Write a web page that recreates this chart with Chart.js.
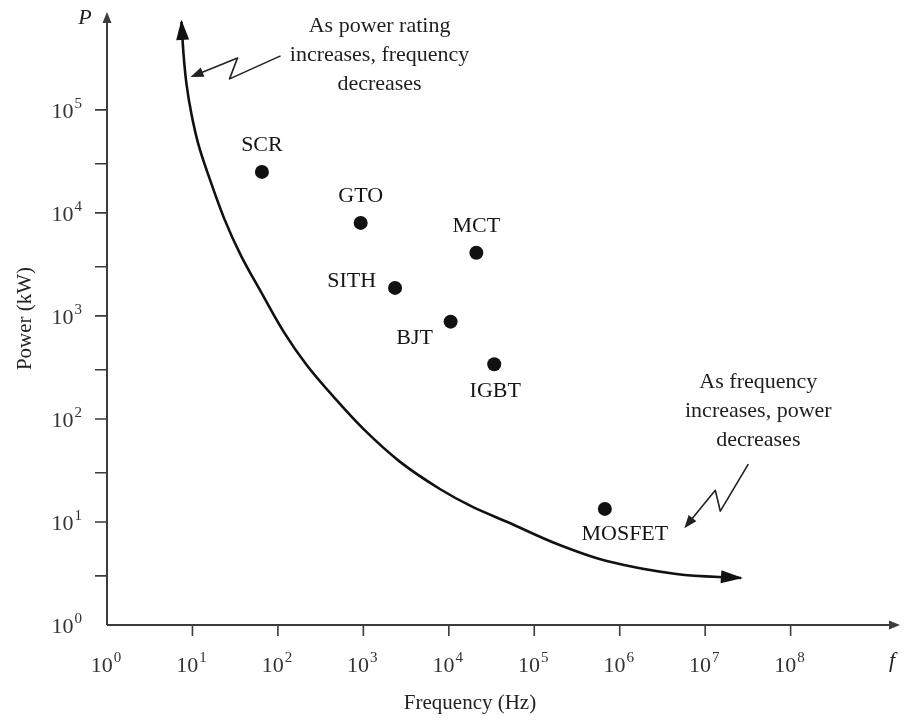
<!DOCTYPE html>
<html>
<head>
<meta charset="utf-8">
<title>Power vs Frequency</title>
<script src="https://cdn.jsdelivr.net/npm/chart.js@4.4.1/dist/chart.umd.min.js"></script>
<style>
  body { margin: 0; background: #fff; }
  #wrap { width: 907px; height: 721px; }
</style>
</head>
<body>
<div id="wrap"><canvas id="myChart" width="907" height="721"></canvas></div>
<script>
// power devices: switching frequency (Hz) vs power (kW)
const devices = ['SCR', 'GTO', 'MCT', 'SITH', 'BJT', 'IGBT', 'MOSFET'];
const devFreq = [65, 930, 21000, 2350, 10500, 34000, 670000];
const devPower = [25000, 8000, 4100, 1870, 880, 340, 13.4];
// where each name goes around its dot
const labelPos = ['above', 'above', 'above', 'left', 'belowLeft', 'below', 'belowRight'];

// the trade-off curve (power vs frequency), read along its length
const trendFreq = [7.45, 7.86, 8.51, 9.73, 11.7, 14.9, 23.6, 37.1, 63.4, 117, 217, 448, 1000,
  2690, 7860, 19000, 48500, 185000, 706000, 4.6e6, 2.62e7];
const trendPower = [715000, 350000, 179000, 91400, 46800, 25000, 8750, 3830, 1710, 700, 334, 164, 80,
  38.3, 20.9, 14.0, 10.0, 6.11, 4.18, 3.13, 2.86];

// axis ticks (powers of ten) and the short in-between marks on P
const xTickExp = [0, 1, 2, 3, 4, 5, 6, 7, 8];
const yTickExp = [0, 1, 2, 3, 4, 5];
const yMinorTicks = [3, 30, 300, 3000, 30000];

const xMax = Math.pow(10, 9.28);
const yMax = Math.pow(10, 5.95);

// callout notes, anchored at the arrow tip (freq, power)
const callouts = [
  { lines: ['As power rating', 'increases, frequency', 'decreases'], tip: [9.5, 2.09e5] },
  { lines: ['As frequency', 'increases, power', 'decreases'], tip: [5.7e6, 8.7] }
];

const FONT = '"Liberation Serif", "Times New Roman", serif';
const INK = '#111';
const AXIS = '#3c3c3c';

function arrowHead(ctx, x, y, angle, len, half) {
  ctx.save();
  ctx.translate(x, y);
  ctx.rotate(angle);
  ctx.beginPath();
  ctx.moveTo(0, 0);
  ctx.lineTo(-len, -half);
  ctx.lineTo(-len, half);
  ctx.closePath();
  ctx.fill();
  ctx.restore();
}

// "10" with a raised exponent
function powLabel(ctx, exp, x, y, align) {
  ctx.font = '22px ' + FONT;
  const w1 = ctx.measureText('10').width;
  ctx.font = '15px ' + FONT;
  const w2 = ctx.measureText(String(exp)).width;
  const total = w1 + w2 + 1;
  let left = align === 'right' ? x - total : x - total / 2;
  ctx.textAlign = 'left';
  ctx.textBaseline = 'middle';
  ctx.font = '22px ' + FONT;
  ctx.fillText('10', left, y + 2);
  ctx.font = '15px ' + FONT;
  ctx.fillText(String(exp), left + w1 + 1, y - 6);
}

const axesPlugin = {
  id: 'axesPlugin',
  beforeDatasetsDraw(chart) {
    const { ctx, chartArea: a, scales: { x, y } } = chart;
    const x0 = x.getPixelForValue(1);
    const y0 = y.getPixelForValue(1);
    ctx.save();
    ctx.strokeStyle = AXIS;
    ctx.fillStyle = AXIS;
    ctx.lineWidth = 2;
    ctx.beginPath();
    ctx.moveTo(x0, y0); ctx.lineTo(x0, a.top + 8);
    ctx.moveTo(x0, y0); ctx.lineTo(a.right - 8, y0);
    ctx.stroke();
    arrowHead(ctx, x0, a.top, -Math.PI / 2, 11, 4.5);
    arrowHead(ctx, a.right, y0, 0, 11, 4.5);

    ctx.lineWidth = 1.6;
    ctx.beginPath();
    xTickExp.forEach(e => {
      if (e === 0) return;
      const px = x.getPixelForValue(Math.pow(10, e));
      ctx.moveTo(px, y0); ctx.lineTo(px, y0 + 11);
    });
    yTickExp.forEach(e => {
      if (e === 0) return;
      const py = y.getPixelForValue(Math.pow(10, e));
      ctx.moveTo(x0, py); ctx.lineTo(x0 - 12, py);
    });
    yMinorTicks.forEach(v => {
      const py = y.getPixelForValue(v);
      ctx.moveTo(x0, py); ctx.lineTo(x0 - 12, py);
    });
    ctx.stroke();

    // tick labels
    ctx.fillStyle = '#333';
    xTickExp.forEach(e => powLabel(ctx, e, x.getPixelForValue(Math.pow(10, e)) - 1, y0 + 39, 'center'));
    yTickExp.forEach(e => powLabel(ctx, e, x0 - 25, y.getPixelForValue(Math.pow(10, e)), 'right'));

    // axis symbols and titles
    ctx.fillStyle = '#222';
    ctx.font = 'italic 22px ' + FONT;
    ctx.textAlign = 'center';
    ctx.textBaseline = 'middle';
    ctx.fillText('P', x0 - 22, a.top + 6);
    ctx.fillText('f', a.right - 8, y0 + 36);
    ctx.font = '21px ' + FONT;
    ctx.fillText('Frequency (Hz)', a.left + 363, y0 + 78);
    ctx.save();
    ctx.translate(25, (a.top + y0) / 2);
    ctx.rotate(-Math.PI / 2);
    ctx.fillText('Power (kW)', 0, 0);
    ctx.restore();
    ctx.restore();
  },
  afterDatasetsDraw(chart) {
    const { ctx, scales: { x, y } } = chart;
    ctx.save();
    ctx.fillStyle = INK;

    // heads on both ends of the trade-off curve
    const pts = chart.getDatasetMeta(0).data;
    const n = pts.length;
    const a0 = Math.atan2(pts[0].y - pts[1].y, pts[0].x - pts[1].x);
    arrowHead(ctx, pts[0].x + 2 * Math.cos(a0), pts[0].y + 2 * Math.sin(a0), a0, 20, 6.5);
    const a1 = Math.atan2(pts[n - 1].y - pts[n - 2].y, pts[n - 1].x - pts[n - 2].x);
    arrowHead(ctx, pts[n - 1].x + 2 * Math.cos(a1), pts[n - 1].y + 2 * Math.sin(a1), a1, 22, 6.5);

    // device names
    ctx.font = '22px ' + FONT;
    ctx.fillStyle = '#151515';
    ctx.textBaseline = 'middle';
    chart.getDatasetMeta(1).data.forEach((p, i) => {
      let dx = 0, dy = -27, align = 'center';
      if (labelPos[i] === 'left') { dx = -19; dy = -7; align = 'right'; }
      if (labelPos[i] === 'belowLeft') { dx = -36; dy = 17; }
      if (labelPos[i] === 'below') { dx = 1; dy = 27; }
      if (labelPos[i] === 'belowRight') { dx = 20; dy = 25; }
      ctx.textAlign = align;
      ctx.fillText(devices[i], p.x + dx, p.y + dy);
    });

    // callouts with squiggly pointers
    const shapes = [
      { path: [[90, -21], [39, 2], [47, -19]], text: [189, -51], step: 29 },
      { path: [[64, -64], [36, -17], [31, -38]], text: [74, -146], step: 29 }
    ];
    callouts.forEach((c, i) => {
      const tx = x.getPixelForValue(c.tip[0]);
      const ty = y.getPixelForValue(c.tip[1]);
      const s = shapes[i];
      ctx.strokeStyle = '#222';
      ctx.fillStyle = '#222';
      ctx.lineWidth = 1.6;
      ctx.lineJoin = 'round';
      ctx.beginPath();
      ctx.moveTo(tx + s.path[0][0], ty + s.path[0][1]);
      s.path.slice(1).forEach(q => ctx.lineTo(tx + q[0], ty + q[1]));
      const last = s.path[s.path.length - 1];
      const ang = Math.atan2(-last[1], -last[0]);
      ctx.lineTo(tx - 8 * Math.cos(ang), ty - 8 * Math.sin(ang));
      ctx.stroke();
      arrowHead(ctx, tx, ty, ang, 13, 5);

      ctx.font = '22px ' + FONT;
      ctx.textAlign = 'center';
      ctx.textBaseline = 'middle';
      ctx.fillStyle = '#1e1e1e';
      c.lines.forEach((line, k) => {
        ctx.fillText(line, tx + s.text[0], ty + s.text[1] + k * s.step);
      });
    });
    ctx.restore();
  }
};

const config = {
  type: 'scatter',
  data: {
    datasets: [
      {
        type: 'line',
        data: trendFreq.map((f, i) => ({ x: f, y: trendPower[i] })),
        borderColor: INK,
        borderWidth: 2.6,
        pointRadius: 0,
        tension: 0.35,
        fill: false
      },
      {
        data: devFreq.map((f, i) => ({ x: f, y: devPower[i] })),
        backgroundColor: INK,
        borderWidth: 0,
        pointRadius: 7
      }
    ]
  },
  options: {
    responsive: false,
    animation: false,
    events: [],
    layout: { padding: { left: 107, top: 12, right: 2, bottom: 96 } },
    plugins: { legend: { display: false }, tooltip: { enabled: false } },
    scales: {
      x: { type: 'logarithmic', min: 1, max: xMax, display: false },
      y: { type: 'logarithmic', min: 1, max: yMax, display: false }
    }
  },
  plugins: [axesPlugin]
};

const myChart = new Chart(document.getElementById('myChart'), config);
</script>
</body>
</html>
